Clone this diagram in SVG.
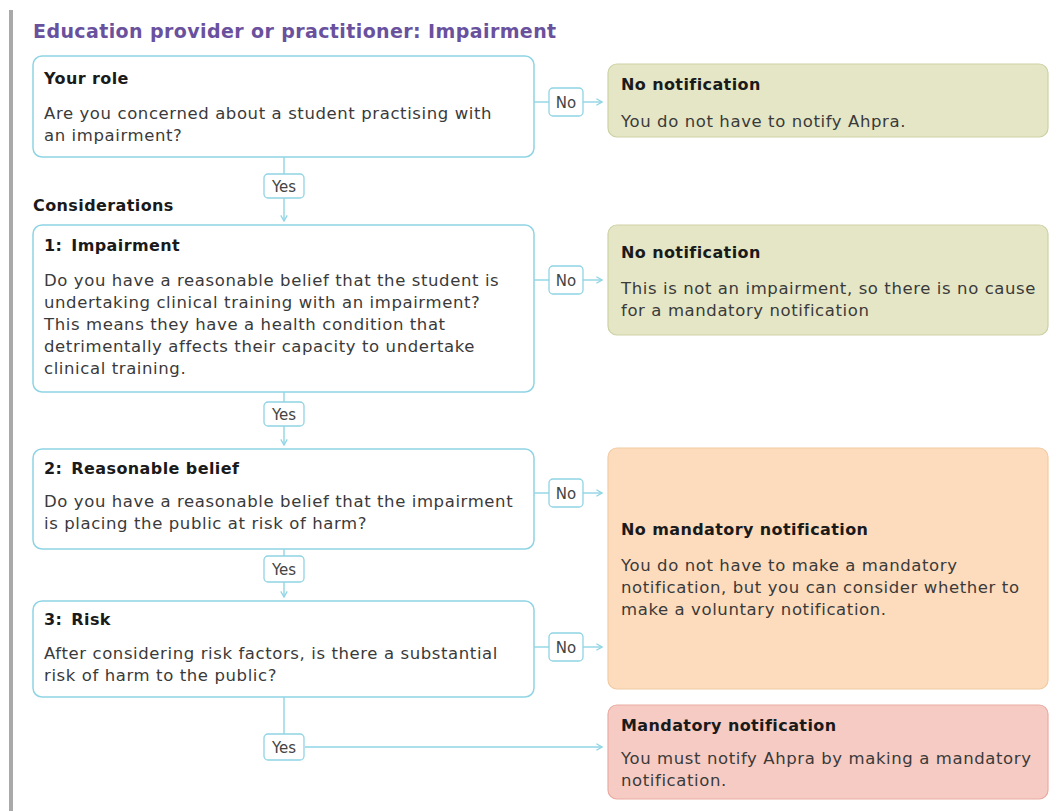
<svg xmlns="http://www.w3.org/2000/svg" width="1053" height="811" viewBox="0 0 1053 811">
<defs>
<style>
.q{fill:#ffffff;stroke:#8fd4e4;stroke-width:1.5}
.g{fill:#e4e6c6;stroke:#cdd2a4;stroke-width:1.2}
.o{fill:#fcdcbd;stroke:#f2cba4;stroke-width:1.2}
.r{fill:#f6cbc3;stroke:#e9aba2;stroke-width:1.2}
.lab{fill:#ffffff;stroke:#8fd4e4;stroke-width:1.3}
.lt{font-family:"DejaVu Sans",sans-serif;font-size:15px;fill:#444;text-anchor:middle}
.h{font-family:"DejaVu Sans",sans-serif;font-size:16px;font-weight:bold;fill:#1a1a1a;letter-spacing:0.4px}
.b{font-family:"DejaVu Sans",sans-serif;font-size:16.5px;fill:#3a3a3a;letter-spacing:0.6px}
.c{fill:none;stroke:#8fd4e4;stroke-width:1.4}
</style>
<marker id="ar" viewBox="0 0 10 10" refX="9" refY="5" markerWidth="8" markerHeight="8" markerUnits="userSpaceOnUse" orient="auto">
<path d="M2,1 L9,5 L2,9" fill="none" stroke="#8fd4e4" stroke-width="1.6"/>
</marker>
</defs>
<rect width="1053" height="811" fill="#ffffff"/>
<rect x="9" y="10" width="4" height="801" fill="#a9a9a9"/>
<text x="33" y="38" font-family="DejaVu Sans,sans-serif" font-size="19" font-weight="bold" fill="#6a519e" letter-spacing="0.4">Education provider or practitioner: Impairment</text>
<text x="33" y="211" class="h">Considerations</text>

<g id="connectors">
<path class="c" d="M534,102 H549"/>
<path class="c" d="M583,102 H602" marker-end="url(#ar)"/>
<path class="c" d="M534,280 H549"/>
<path class="c" d="M583,280 H602" marker-end="url(#ar)"/>
<path class="c" d="M534,493 H549"/>
<path class="c" d="M583,493 H602" marker-end="url(#ar)"/>
<path class="c" d="M534,647 H549"/>
<path class="c" d="M583,647 H602" marker-end="url(#ar)"/>
<path class="c" d="M284,157 V174"/>
<path class="c" d="M284,198 V221" marker-end="url(#ar)"/>
<path class="c" d="M284,392 V402"/>
<path class="c" d="M284,426 V445" marker-end="url(#ar)"/>
<path class="c" d="M284,549 V556"/>
<path class="c" d="M284,582 V597" marker-end="url(#ar)"/>
<path class="c" d="M284,697 V734"/>
<path class="c" d="M305,747 H602" marker-end="url(#ar)"/>
<rect class="lab" x="549" y="88" width="34" height="28" rx="4"/>
<text class="lt" x="566" y="107.5">No</text>
<rect class="lab" x="549" y="266" width="34" height="28" rx="4"/>
<text class="lt" x="566" y="285.5">No</text>
<rect class="lab" x="549" y="479" width="34" height="28" rx="4"/>
<text class="lt" x="566" y="498.5">No</text>
<rect class="lab" x="549" y="633" width="34" height="28" rx="4"/>
<text class="lt" x="566" y="652.5">No</text>
<rect class="lab" x="264" y="174" width="40" height="24" rx="4"/>
<text class="lt" x="284" y="191.5">Yes</text>
<rect class="lab" x="264" y="402" width="40" height="24" rx="4"/>
<text class="lt" x="284" y="419.5">Yes</text>
<rect class="lab" x="264" y="556" width="40" height="26" rx="4"/>
<text class="lt" x="284" y="574.5">Yes</text>
<rect class="lab" x="264" y="734" width="40" height="26" rx="4"/>
<text class="lt" x="284" y="752.5">Yes</text>
</g>

<g id="role">
<rect class="q" x="33" y="56" width="501" height="101" rx="9"/>
<text class="h" x="44" y="84">Your role</text>
<text class="b" x="44" y="119">Are you concerned about a student practising with</text>
<text class="b" x="44" y="141">an impairment?</text>
</g>

<g id="impairment">
<rect class="q" x="33" y="225" width="501" height="167" rx="9"/>
<text class="h" x="44" y="251">1:<tspan dx="9">Impairment</tspan></text>
<text class="b" x="44" y="286">Do you have a reasonable belief that the student is</text>
<text class="b" x="44" y="308">undertaking clinical training with an impairment?</text>
<text class="b" x="44" y="330">This means they have a health condition that</text>
<text class="b" x="44" y="352">detrimentally affects their capacity to undertake</text>
<text class="b" x="44" y="374">clinical training.</text>
</g>

<g id="belief">
<rect class="q" x="33" y="449" width="501" height="100" rx="9"/>
<text class="h" x="44" y="474">2:<tspan dx="9">Reasonable belief</tspan></text>
<text class="b" x="44" y="507">Do you have a reasonable belief that the impairment</text>
<text class="b" x="44" y="529">is placing the public at risk of harm?</text>
</g>

<g id="risk">
<rect class="q" x="33" y="601" width="501" height="96" rx="9"/>
<text class="h" x="44" y="625">3:<tspan dx="9">Risk</tspan></text>
<text class="b" x="44" y="659">After considering risk factors, is there a substantial</text>
<text class="b" x="44" y="681">risk of harm to the public?</text>
</g>

<g id="nonotify1">
<rect class="g" x="608" y="64" width="440" height="73" rx="9"/>
<text class="h" x="621" y="90">No notification</text>
<text class="b" x="621" y="127">You do not have to notify Ahpra.</text>
</g>

<g id="nonotify2">
<rect class="g" x="608" y="225" width="440" height="110" rx="9"/>
<text class="h" x="621" y="258">No notification</text>
<text class="b" x="621" y="294">This is not an impairment, so there is no cause</text>
<text class="b" x="621" y="316">for a mandatory notification</text>
</g>

<g id="nomandatory">
<rect class="o" x="608" y="448" width="440" height="241" rx="9"/>
<text class="h" x="621" y="535">No mandatory notification</text>
<text class="b" x="621" y="571">You do not have to make a mandatory</text>
<text class="b" x="621" y="593">notification, but you can consider whether to</text>
<text class="b" x="621" y="615">make a voluntary notification.</text>
</g>

<g id="mandatory">
<rect class="r" x="608" y="705" width="440" height="94" rx="9"/>
<text class="h" x="621" y="731">Mandatory notification</text>
<text class="b" x="621" y="764">You must notify Ahpra by making a mandatory</text>
<text class="b" x="621" y="786">notification.</text>
</g>
</svg>
